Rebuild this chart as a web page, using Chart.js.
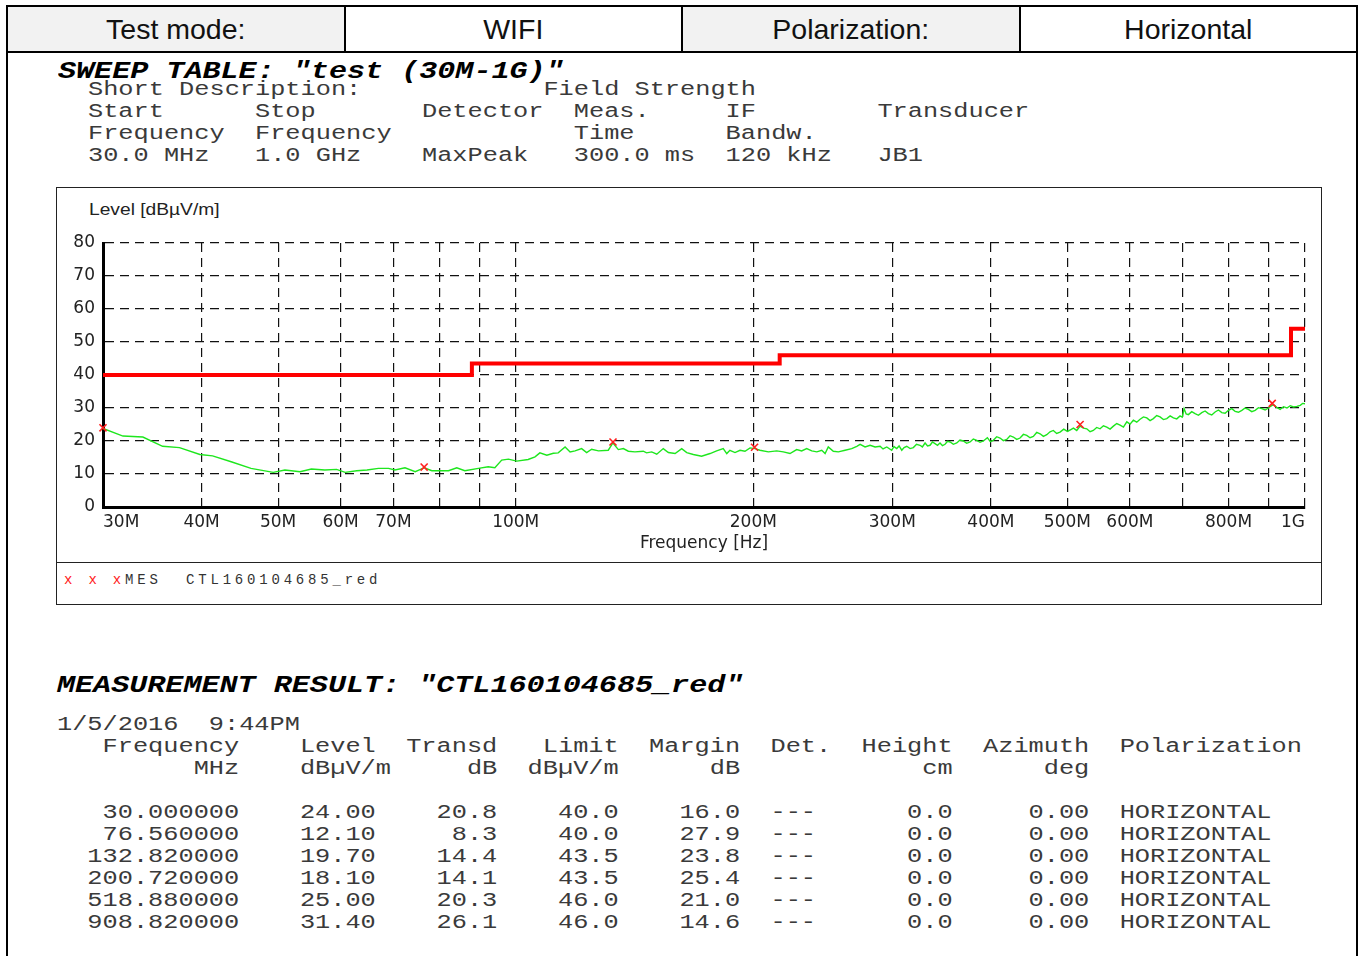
<!DOCTYPE html>
<html>
<head>
<meta charset="utf-8">
<script src="https://cdn.jsdelivr.net/npm/chart.js@4.4.1/dist/chart.umd.min.js"></script>
<style>
  body { margin: 0; background: #fff; width: 1362px; height: 956px; position: relative; overflow: hidden; font-family: "Liberation Sans", Arial, sans-serif; }
  #frame { position: absolute; left: 6px; top: 5px; width: 1352px; height: 980px; border: 2px solid #000; box-sizing: border-box; }
  #head { position: absolute; left: 6px; top: 5px; width: 1352px; height: 48px; display: flex; border: 2px solid #000; box-sizing: border-box; }
  #head div { flex: 1; display: flex; align-items: center; justify-content: center; font-size: 28.5px; color: #111; border-right: 2px solid #000; }
  #head div:last-child { border-right: none; }
  #head .lab { background: #f2f2f2; }
  .mono { position: absolute; margin: 0; font-family: "Liberation Mono", "Courier New", monospace; font-size: 20.5px; line-height: 22px; color: #3a3a3a; white-space: pre; transform: scaleX(1.234); transform-origin: 0 0; }
  .bold { position: absolute; margin: 0; font-family: "Liberation Mono", "Courier New", monospace; font-size: 24.4px; font-weight: bold; font-style: italic; line-height: 24px; color: #000; white-space: pre; transform: scaleX(1.234); transform-origin: 0 0; }
  #box { position: absolute; left: 56px; top: 187px; width: 1266px; height: 418px; border: 1px solid #222; box-sizing: border-box; }
  #divider { position: absolute; left: 56px; top: 562px; width: 1266px; border-top: 1px solid #222; }
  #chart { position: absolute; left: 57px; top: 188px; }
  #ylab { position: absolute; left: 89px; top: 201px; font-size: 16px; color: #222; transform: scaleX(1.2); transform-origin: 0 0; white-space: nowrap; }
  #legend { position: absolute; left: 64px; top: 572px; font-family: "Liberation Mono", monospace; font-size: 14px; letter-spacing: 3.8px; color: #333; white-space: pre; }
  #legend span { color: #ff2020; }
</style>
</head>
<body>
<div id="frame"></div>
<div id="head">
  <div class="lab">Test mode:</div>
  <div>WIFI</div>
  <div class="lab">Polarization:</div>
  <div>Horizontal</div>
</div>

<div class="bold" style="left:58px; top:60px;">SWEEP TABLE: "test (30M-1G)"</div>
<pre class="mono" style="left:88px; top:79px;">Short Description:            Field Strength
Start      Stop       Detector  Meas.     IF        Transducer
Frequency  Frequency            Time      Bandw.
30.0 MHz   1.0 GHz    MaxPeak   300.0 ms  120 kHz   JB1</pre>

<div id="box"></div>
<div id="divider"></div>
<div id="ylab">Level [dBµV/m]</div>
<canvas id="chart" width="1263" height="374"></canvas>
<div id="legend"><span>x x x</span>MES  CTL160104685_red</div>

<div class="bold" style="left:57px; top:674px;">MEASUREMENT RESULT: "CTL160104685_red"</div>
<pre class="mono" id="result" style="left:57px; top:714px;"></pre>

<script>
// x axis ticks (MHz)
let xTickValues = [30, 40, 50, 60, 70, 80, 90, 100, 200, 300, 400, 500, 600, 700, 800, 900, 1000];
let xTickLabels = ["30M", "40M", "50M", "60M", "70M", "", "", "100M", "200M", "300M", "400M", "500M", "600M", "", "800M", "", "1G"];

// limit line (steps)
let limitFreq = [30, 88, 216, 960, 1000];
let limitLevel = [40, 43.5, 46, 54, 54];

let traceFreq = [
  30, 31.8, 33.7, 35.7, 37.5, 39.8, 41.3, 43.6, 46.2, 49.3,
  51.0, 53.3, 55.1, 57.3, 59.3, 60.8, 62.9, 64.8, 67.0, 69.0,
  70.3, 72.4, 74.6, 76.6, 78.3, 82.2, 84.2, 86.2, 89.7, 92.3,
  94.1, 96.0, 97.9, 100.3, 103.7, 105.8, 107.3, 109.5, 111.6, 113.2,
  115.5, 117.2, 118.9, 121.2, 123.0, 124.8, 127.3, 131.0, 132.8, 134.9,
  136.9, 138.9, 141.6, 145.1, 146.5, 148.7, 150.9, 153.8, 156.1, 159.2,
  162.3, 164.7, 167.9, 172.0, 176.3, 179.7, 183.2, 185.1, 186.8, 189.6,
  192.4, 195.2, 198.1, 201.0, 203.9, 209.0, 214.1, 218.3, 222.6, 227.0,
  230.3, 233.7, 237.2, 240.7, 244.2, 246.6, 248.9, 252.6, 256.3, 261.4,
  266.5, 270.5, 273.1, 277.1, 281.2, 285.3, 289.5, 292.0, 295.2, 299.5,
  301.5, 303.9, 306.0, 308.4, 310.5, 312.9, 316.0, 319.0, 322.0, 325.3,
  327.5, 330.1, 332.5, 334.9, 337.3, 339.8, 342.3, 344.8, 347.3, 349.9,
  352.5, 355.1, 358.5, 362.1, 365.5, 369.1, 372.7, 376.4, 380.0, 383.8,
  387.5, 391.3, 395.9, 399.3, 402.8, 406.8, 410.8, 414.8, 418.9, 423.0,
  427.1, 431.3, 435.5, 439.8, 444.1, 448.4, 452.7, 457.2, 461.7, 466.2,
  470.8, 475.3, 479.9, 484.6, 489.4, 494.7, 500.0, 504.4, 508.8, 513.8,
  518.9, 524.0, 529.1, 534.2, 539.3, 544.6, 550.0, 555.4, 560.9, 566.3,
  571.8, 577.4, 583.1, 588.8, 594.6, 600.3, 606.1, 612.1, 618.1, 624.2,
  630.3, 636.4, 642.5, 648.8, 655.2, 661.7, 668.2, 674.7, 681.2, 687.9,
  694.6, 699.0, 702.8, 707.0, 711.6, 718.6, 725.7, 732.8, 740.0, 747.2,
  754.4, 761.8, 769.3, 776.9, 784.5, 792.1, 799.8, 807.7, 815.6, 823.6,
  831.7, 839.7, 847.8, 856.2, 864.6, 873.1, 881.6, 890.2, 898.8, 905.4,
  912.0, 921.0, 930.0, 939.3, 948.7, 957.9, 967.1, 976.6, 986.2, 993.0, 1000
];
let traceLevel = [
  23.8, 21.5, 21.2, 18.4, 18.0, 15.9, 15.5, 13.7, 11.7, 10.5,
  11.2, 10.7, 11.5, 11.2, 11.4, 10.5, 11.0, 11.2, 11.7, 11.7,
  11.2, 11.9, 10.7, 11.9, 11.0, 11.0, 11.9, 11.0, 11.7, 12.2,
  11.9, 14.2, 14.5, 13.9, 14.4, 15.2, 16.4, 15.7, 16.3, 16.4,
  18.2, 16.7, 17.0, 17.7, 16.5, 17.5, 17.0, 17.2, 19.4, 17.4,
  17.7, 16.9, 16.7, 16.9, 16.4, 16.7, 16.0, 17.7, 16.5, 16.2,
  17.7, 16.5, 15.9, 15.4, 16.2, 17.0, 17.7, 16.2, 17.2, 16.5,
  17.2, 16.9, 17.9, 17.7, 17.2, 16.7, 17.0, 16.7, 16.2, 17.4,
  17.0, 17.7, 17.0, 16.7, 17.2, 16.2, 18.2, 16.9, 16.7, 17.2,
  17.7, 18.4, 19.0, 18.2, 18.7, 18.2, 18.4, 17.6, 18.2, 17.2,
  18.3, 17.7, 18.5, 17.2, 18.0, 18.4, 17.7, 18.0, 19.0, 18.7,
  18.2, 19.4, 18.5, 18.7, 19.7, 19.2, 18.7, 19.4, 18.6, 19.0,
  19.9, 19.7, 19.0, 19.4, 20.3, 20.0, 19.3, 19.7, 20.6, 20.2,
  19.6, 20.0, 21.0, 19.8, 20.2, 21.3, 20.9, 20.1, 20.5, 21.6,
  21.2, 20.5, 20.9, 22.0, 21.7, 21.0, 21.4, 22.6, 22.2, 21.4,
  21.9, 22.8, 23.2, 22.3, 22.7, 23.6, 22.9, 23.4, 23.9, 23.2,
  24.5, 23.9, 23.7, 22.8, 23.2, 24.1, 23.7, 24.6, 24.2, 23.6,
  24.5, 25.3, 24.8, 24.2, 25.8, 25.1, 26.3, 25.7, 26.6, 27.3,
  27.0, 26.2, 26.8, 27.7, 27.3, 26.5, 26.8, 27.6, 27.0, 26.7,
  27.6, 27.2, 29.8, 28.2, 28.0, 28.9, 28.3, 27.8, 28.6, 29.1,
  28.3, 27.9, 28.8, 29.4, 28.6, 28.4, 29.3, 29.8, 29.0, 28.7,
  29.3, 30.0, 29.6, 28.9, 29.3, 30.1, 29.8, 29.4, 30.0, 30.6,
  31.0, 30.2, 29.6, 30.4, 30.0, 30.7, 30.3, 30.5, 30.8, 31.4, 31.3
];

// measurement results (markers + table)
let markFreq = [30.0, 76.56, 132.82, 200.72, 518.88, 908.82];
let markLevel = [24.00, 12.10, 19.70, 18.10, 25.00, 31.40];
let markTransd = [20.8, 8.3, 14.4, 14.1, 20.3, 26.1];
let markLimit = [40.0, 40.0, 43.5, 43.5, 46.0, 46.0];
let markMargin = [16.0, 27.9, 23.8, 25.4, 21.0, 14.6];

// Result table text
let lines = [
  "1/5/2016  9:44PM",
  "   Frequency    Level  Transd   Limit  Margin  Det.  Height  Azimuth  Polarization",
  "         MHz    dBµV/m     dB  dBµV/m      dB            cm      deg",
  ""
];
for (let i = 0; i < markFreq.length; i++) {
  lines.push(
    markFreq[i].toFixed(6).padStart(12) +
    markLevel[i].toFixed(2).padStart(9) +
    markTransd[i].toFixed(1).padStart(8) +
    markLimit[i].toFixed(1).padStart(8) +
    markMargin[i].toFixed(1).padStart(8) +
    "  ---" +
    "0.0".padStart(9) +
    "0.00".padStart(9) +
    "  HORIZONTAL"
  );
}
document.getElementById("result").textContent = lines.join("\n");

function toPoints(xs, ys) {
  return xs.map((x, i) => ({ x: x, y: ys[i] }));
}

let tickFont = { family: "DejaVu Sans", size: 17 };

let ctx = document.getElementById("chart").getContext("2d");
new Chart(ctx, {
  type: "line",
  data: {
    datasets: [
      {
        label: "MES",
        data: toPoints(markFreq, markLevel),
        showLine: false,
        pointStyle: "crossRot",
        pointRadius: 5,
        pointBorderWidth: 1.6,
        pointBorderColor: "#ff2020",
        borderColor: "#ff2020",
        clip: false
      },
      {
        label: "Limit",
        data: toPoints(limitFreq, limitLevel),
        stepped: "before",
        borderColor: "#ff0000",
        borderWidth: 4,
        pointRadius: 0
      },
      {
        label: "Level",
        data: toPoints(traceFreq, traceLevel),
        borderColor: "#1ee61e",
        borderWidth: 1.4,
        pointRadius: 0,
        tension: 0
      }
    ]
  },
  options: {
    responsive: false,
    animation: false,
    devicePixelRatio: 1,
    events: [],
    layout: { padding: { left: 0, right: 15, top: 55, bottom: 0 } },
    plugins: {
      legend: { display: false },
      tooltip: { enabled: false }
    },
    scales: {
      x: {
        type: "logarithmic",
        min: 30,
        max: 1000,
        afterBuildTicks: function (scale) {
          scale.ticks = xTickValues.map(v => ({ value: v }));
        },
        afterFit: function (scale) { scale.height = 55; },
        ticks: {
          autoSkip: false,
          maxRotation: 0,
          minRotation: 0,
          align: "inner",
          padding: 5,
          font: tickFont,
          color: "#222",
          callback: function (value, index) { return xTickLabels[index]; }
        },
        grid: { color: "#111", lineWidth: 1.2, drawTicks: false },
        border: { display: true, color: "#000", width: 3, dash: [9, 6] },
        title: {
          display: true,
          text: "Frequency [Hz]",
          font: tickFont,
          color: "#222",
          padding: { top: 0, bottom: 8 }
        }
      },
      y: {
        min: 0,
        max: 80,
        afterFit: function (scale) { scale.width = 46; },
        ticks: { stepSize: 10, padding: 8, font: tickFont, color: "#222" },
        grid: { color: "#111", lineWidth: 1.2, drawTicks: false },
        border: { display: true, color: "#000", width: 3, dash: [9, 6] }
      }
    }
  }
});
</script>
</body>
</html>
